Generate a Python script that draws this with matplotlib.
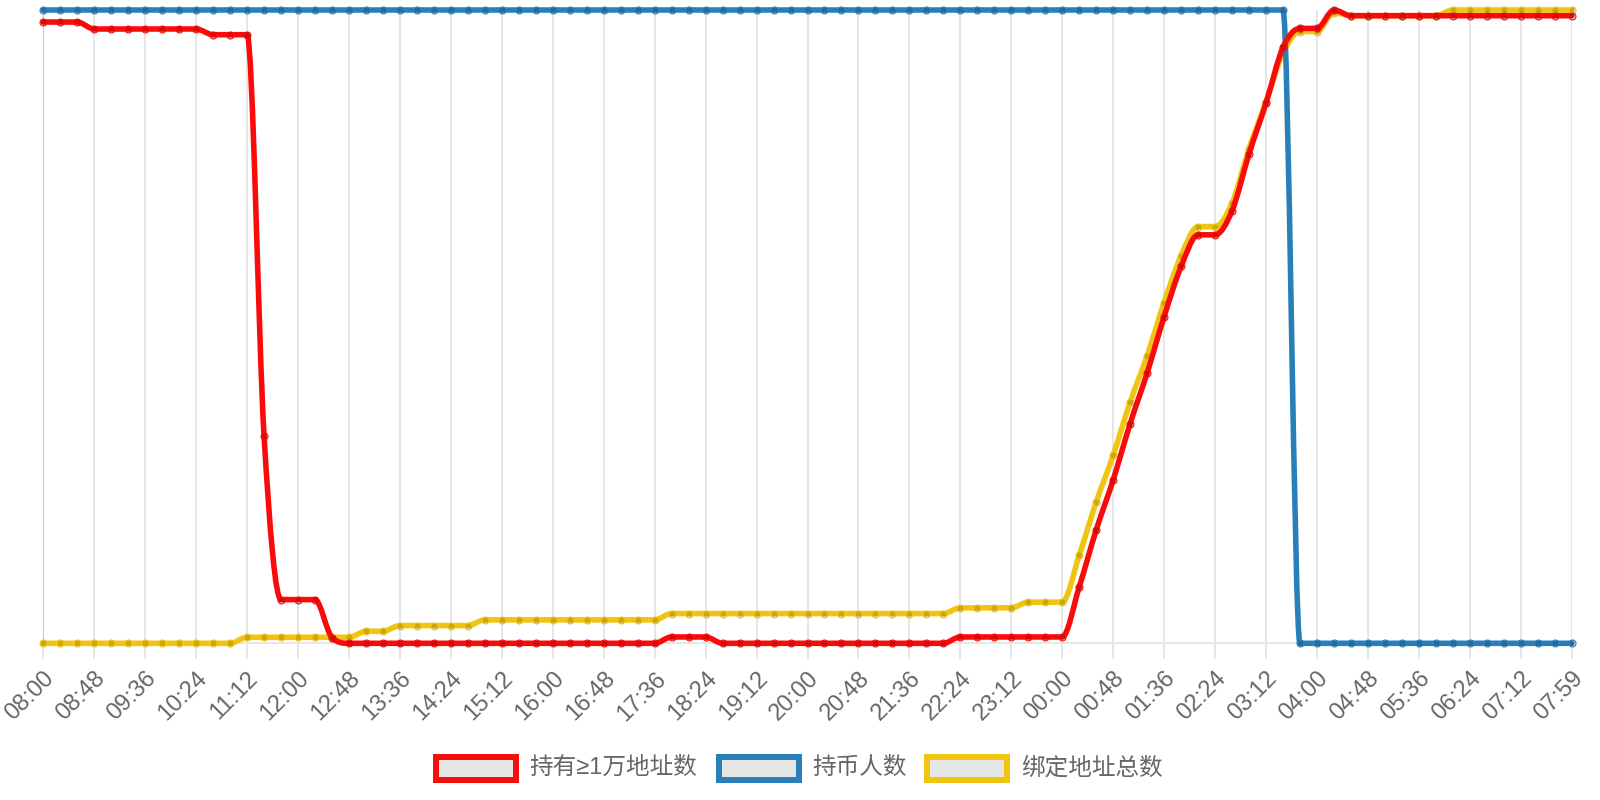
import numpy as np
import matplotlib
matplotlib.use("Agg")
import matplotlib.pyplot as plt
from matplotlib.path import Path
from matplotlib.patches import PathPatch, Rectangle

plt.rcParams["font.family"] = ["Liberation Sans", "Noto Sans CJK SC", "DejaVu Sans"]

# values, scaled 0-100 per series (the source has no y scale)
TICK_LABELS = [
    "08:00", "08:48", "09:36", "10:24", "11:12", "12:00", "12:48", "13:36",
    "14:24", "15:12", "16:00", "16:48", "17:36", "18:24", "19:12", "20:00",
    "20:48", "21:36", "22:24", "23:12", "00:00", "00:48", "01:36", "02:24",
    "03:12", "04:00", "04:48", "05:36", "06:24", "07:12", "07:59",
]
TICK_STEP = 3  # one sample every 16 minutes, label every 48

SERIES_NAMES = ["持有≥1万地址数", "持币人数", "绑定地址总数"]

big_holders = [
    98.1, 98.1, 98.1, 97.0, 97.0, 97.0, 97.0, 97.0, 97.0, 97.0,
    96.1, 96.1, 96.1, 32.7, 6.9, 6.9, 6.9, 0.9, 0, 0,
    0, 0, 0, 0, 0, 0, 0, 0, 0, 0,
    0, 0, 0, 0, 0, 0, 0, 1.0, 1.0, 1.0,
    0, 0, 0, 0, 0, 0, 0, 0, 0, 0,
    0, 0, 0, 0, 1.0, 1.0, 1.0, 1.0, 1.0, 1.0,
    1.0, 8.9, 17.9, 25.8, 34.7, 42.7, 51.6, 59.5, 64.5, 64.5,
    68.3, 77.3, 85.3, 94.1, 97.1, 97.1, 100, 99.1, 99.1, 99.1,
    99.1, 99.1, 99.1, 99.1, 99.1, 99.1, 99.1, 99.1, 99.1, 99.1,
    99.1,
]

holders = [
    100, 100, 100, 100, 100, 100, 100, 100, 100, 100,
    100, 100, 100, 100, 100, 100, 100, 100, 100, 100,
    100, 100, 100, 100, 100, 100, 100, 100, 100, 100,
    100, 100, 100, 100, 100, 100, 100, 100, 100, 100,
    100, 100, 100, 100, 100, 100, 100, 100, 100, 100,
    100, 100, 100, 100, 100, 100, 100, 100, 100, 100,
    100, 100, 100, 100, 100, 100, 100, 100, 100, 100,
    100, 100, 100, 100, 0, 0, 0, 0, 0, 0,
    0, 0, 0, 0, 0, 0, 0, 0, 0, 0,
    0,
]

bound_addresses = [
    0, 0, 0, 0, 0, 0, 0, 0, 0, 0,
    0, 0, 0.95, 0.95, 0.95, 0.95, 0.95, 0.95, 0.95, 1.9,
    1.9, 2.8, 2.8, 2.8, 2.8, 2.8, 3.7, 3.7, 3.7, 3.7,
    3.7, 3.7, 3.7, 3.7, 3.7, 3.7, 3.7, 4.7, 4.7, 4.7,
    4.7, 4.7, 4.7, 4.7, 4.7, 4.7, 4.7, 4.7, 4.7, 4.7,
    4.7, 4.7, 4.7, 4.7, 5.6, 5.6, 5.6, 5.6, 6.5, 6.5,
    6.5, 13.9, 22.3, 29.7, 38.1, 45.4, 53.8, 61.2, 65.8, 65.8,
    69.5, 78.1, 85.5, 93.2, 96.6, 96.6, 99.6, 99.1, 99.1, 99.1,
    99.1, 99.1, 99.1, 100, 100, 100, 100, 100, 100, 100,
    100,
]

COLORS = ["#fa0b0b", "#2980b9", "#f1c40f"]
GRID = "#e6e6e6"
TEXT = "#666666"
W, H = 1600, 800


def monotone_path(xs, ys):
    """Monotone cubic Bezier path (same scheme as Chart.js 'monotone' mode)."""
    xs = np.asarray(xs, dtype=float)
    ys = np.asarray(ys, dtype=float)
    n = len(xs)
    delta = np.diff(ys) / np.diff(xs)
    m = np.zeros(n)
    m[0], m[-1] = delta[0], delta[-1]
    for i in range(1, n - 1):
        if np.sign(delta[i - 1]) != np.sign(delta[i]):
            m[i] = 0
        else:
            m[i] = (delta[i - 1] + delta[i]) / 2
    for i in range(n - 1):
        if delta[i] == 0:
            m[i] = m[i + 1] = 0
            continue
        a, b = m[i] / delta[i], m[i + 1] / delta[i]
        sq = a * a + b * b
        if sq <= 9:
            continue
        tau = 3 / np.sqrt(sq)
        m[i] = a * tau * delta[i]
        m[i + 1] = b * tau * delta[i]

    verts = [(xs[0], ys[0])]
    codes = [Path.MOVETO]
    for i in range(n - 1):
        dx = (xs[i + 1] - xs[i]) / 3
        verts += [(xs[i] + dx, ys[i] + dx * m[i]),
                  (xs[i + 1] - dx, ys[i + 1] - dx * m[i + 1]),
                  (xs[i + 1], ys[i + 1])]
        codes += [Path.CURVE4] * 3
    return Path(verts, codes)


def draw_legend(fig):
    box_w, box_h, border = 86, 29, 6
    y_mid = 768
    boxes = [433.3, 716, 924.3]
    for name, color, bx in zip(SERIES_NAMES, COLORS, boxes):
        rect = Rectangle(
            ((bx + border / 2) / W, 1 - (y_mid + box_h / 2 - border / 2) / H),
            (box_w - border) / W, (box_h - border) / H,
            transform=fig.transFigure, facecolor="#e6e6e6",
            edgecolor=color, linewidth=border * 72 / 100,
        )
        fig.add_artist(rect)
        fig.text((bx + box_w + 10.5) / W, 1 - y_mid / H, name, fontsize=17,
                 color=TEXT, ha="left", va="center")


def main():
    fig = plt.figure(figsize=(16, 8), dpi=100)
    left, right, top, bottom = 43.3, 1571.7, 10, 643.3
    ax = fig.add_axes([left / W, 1 - bottom / H, (right - left) / W, (bottom - top) / H])

    n = len(big_holders)
    x = np.arange(n)
    ax.set_xlim(0, n - 1)
    ax.set_ylim(0, 100)

    ticks = x[::TICK_STEP]
    ax.set_xticks(ticks)
    ax.set_xticklabels(TICK_LABELS, rotation=45, ha="right", va="top",
                       rotation_mode="anchor", fontsize=17, color=TEXT)
    ax.set_yticks([])
    ax.tick_params(axis="x", length=11.5, width=1.4, color=GRID, pad=6)
    ax.grid(axis="x", color=GRID, linewidth=1.4)
    ax.set_axisbelow(True)
    for side in ["top", "right", "left"]:
        ax.spines[side].set_visible(False)
    ax.spines["bottom"].set_color(GRID)
    ax.spines["bottom"].set_linewidth(1.4)
    # first grid line is the darker zero line
    ax.get_xgridlines()[0].set_color("#c4c4c4")
    ax.xaxis.get_major_ticks()[0].tick1line.set_color("#c4c4c4")

    data = [big_holders, holders, bound_addresses]
    # Chart.js paints the last dataset first
    for z, (ys, color) in enumerate(reversed(list(zip(data, COLORS)))):
        patch = PathPatch(monotone_path(x, ys), facecolor="none", edgecolor=color,
                          linewidth=4.0, capstyle="round", joinstyle="round",
                          clip_on=False, zorder=3 + z)
        ax.add_patch(patch)
        ax.plot(x, ys, "o", ms=5.0, mfc=(0, 0, 0, 0.15), mec=color, mew=0.8,
                clip_on=False, zorder=3 + z)

    draw_legend(fig)
    fig.savefig("out.png", dpi=100)
    plt.close(fig)


if __name__ == "__main__":
    main()
